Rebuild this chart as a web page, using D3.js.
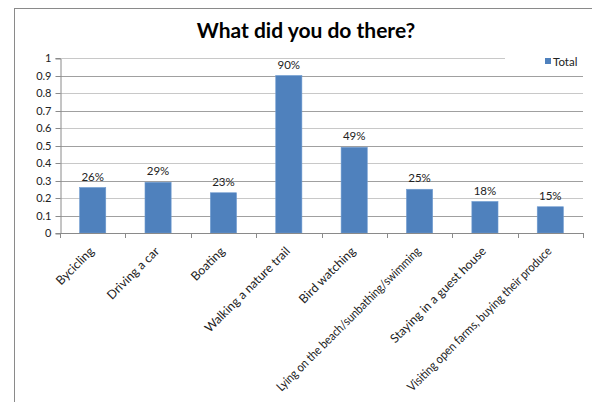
<!DOCTYPE html>
<html><head><meta charset="utf-8">
<script src="https://cdn.jsdelivr.net/npm/d3@7"></script>
<style>body{margin:0;background:#fff;}svg{display:block;}text{font-family:Lato, "Open Sans", sans-serif;}</style>
</head><body><svg id="c" width="592" height="402"></svg>
<script>
const categories = ["Bycicling","Driving a car","Boating","Walking a nature trail","Bird watching","Lying on the beach/sunbathing/swimming","Staying in a guest house","Visiting open farms, buying their produce"];
const values = [0.26,0.29,0.23,0.90,0.49,0.25,0.18,0.15];
const valueLabels = ["26%","29%","23%","90%","49%","25%","18%","15%"];
const yTicks = [0,0.1,0.2,0.3,0.4,0.5,0.6,0.7,0.8,0.9,1];
const seriesName = "Total";
const title = "What did you do there?";

const svg = d3.select("#c");
const W=592,H=402;
const m = {l:60, r:583, t:58, b:233};
svg.append("rect").attr("x",14.5).attr("y",8.5).attr("width",W).attr("height",H).attr("fill","#fff").attr("stroke","#8a8a8a").attr("stroke-width",1);

svg.append("text").attr("x",306).attr("y",38).attr("text-anchor","middle").attr("font-size",21).attr("font-weight","bold").attr("fill","#000").text(title);

const x = d3.scaleBand().domain(categories).range([m.l,m.r]).paddingInner(0.6).paddingOuter(0.3);
const y = d3.scaleLinear().domain([0,1]).range([m.b,m.t]);

// gridlines
svg.append("g").selectAll("line").data(yTicks.filter(d=>d>0)).join("line")
  .attr("x1",m.l).attr("x2",m.r).attr("y1",d=>Math.round(y(d))+0.5).attr("y2",d=>Math.round(y(d))+0.5)
  .attr("stroke",(d,i)=> i%2? "#c8c8c8":"#a0a0a0").attr("stroke-width",1);

// y axis
const ya = svg.append("g").attr("transform",`translate(${m.l+0.5},0.5)`).call(d3.axisLeft(y).tickValues(yTicks).tickSize(5).tickPadding(4).tickFormat(d=>d===0?"0":d===1?"1":d3.format(".1f")(d)));
ya.select(".domain").attr("stroke","#8a8a8a");
ya.selectAll(".tick line").attr("stroke","#8a8a8a");
ya.selectAll("text").attr("font-size",11).attr("fill","#222").attr("font-family","Lato");
ya.selectAll(".tick").attr("transform",d=>`translate(0,${Math.round(y(d))})`);

// bars
svg.append("g").selectAll("rect").data(values).join("rect")
  .attr("x",(d,i)=>x(categories[i])).attr("width",x.bandwidth())
  .attr("y",d=>y(d)).attr("height",d=>m.b-y(d))
  .attr("fill","#4f81bd").attr("stroke","#6f9bd0").attr("stroke-width",0.6);

// value labels
svg.append("g").selectAll("text").data(values).join("text")
  .attr("x",(d,i)=>x(categories[i])+x.bandwidth()/2).attr("y",d=>y(d)-7)
  .attr("text-anchor","middle").attr("font-size",11.5).attr("fill","#222").text((d,i)=>valueLabels[i]);

// x axis
const step = (m.r-m.l)/categories.length;
const xg = svg.append("g");
xg.append("line").attr("x1",m.l).attr("x2",m.r).attr("y1",m.b+0.5).attr("y2",m.b+0.5).attr("stroke","#8a8a8a");
xg.selectAll("line.t").data(d3.range(categories.length+1)).join("line").attr("class","t")
  .attr("x1",i=>Math.round(m.l+i*step)+0.5).attr("x2",i=>Math.round(m.l+i*step)+0.5)
  .attr("y1",m.b).attr("y2",m.b+5).attr("stroke","#8a8a8a");
const maxDiag = 198;
xg.selectAll("text").data(categories).join("text")
  .attr("transform",d=>`translate(${x(d)+x.bandwidth()/2+2},${m.b+19}) rotate(-45)`)
  .attr("text-anchor","end").attr("font-size",12.3).attr("fill","#222").text(d=>d)
  .each(function(){
    const len = this.getComputedTextLength();
    if (len > maxDiag) d3.select(this).attr("textLength", maxDiag).attr("lengthAdjust","spacingAndGlyphs");
  });

// legend
const lg = svg.append("g");
lg.append("rect").attr("x",505).attr("y",50).attr("width",78).attr("height",20).attr("fill","#fff");
lg.append("rect").attr("x",545).attr("y",58).attr("width",6).attr("height",6).attr("fill","#4f81bd");
lg.append("text").attr("x",553).attr("y",65.5).attr("font-size",11.5).attr("fill","#222").text(seriesName);
</script></body></html>
